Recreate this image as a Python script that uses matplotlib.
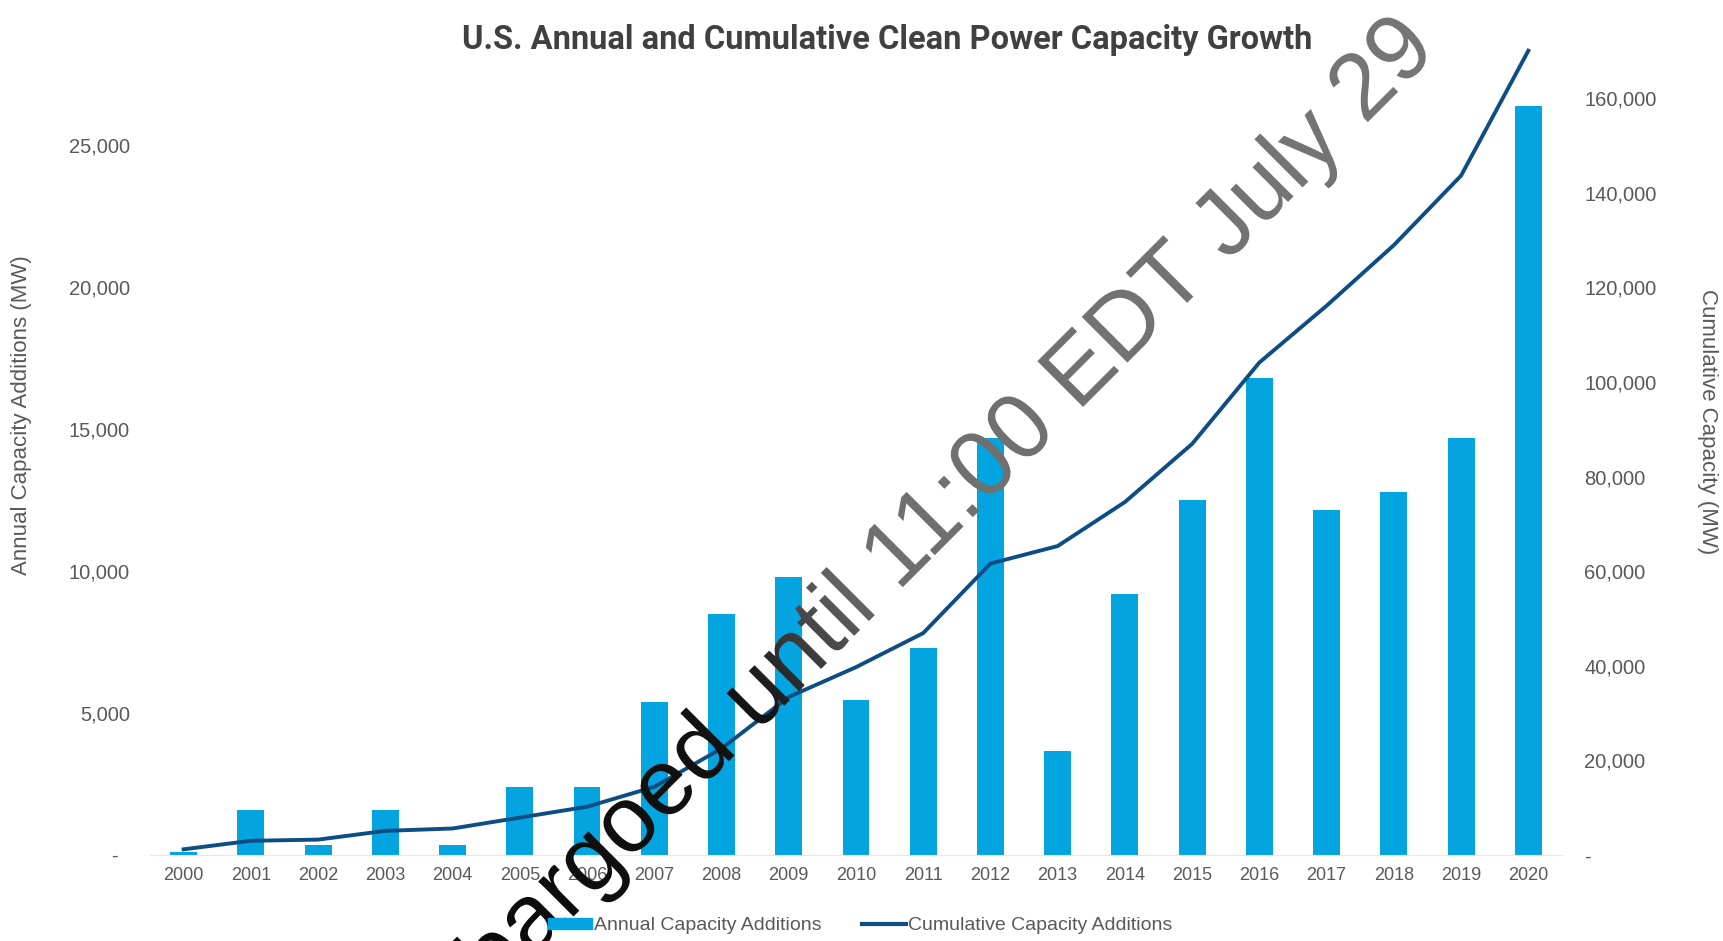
import numpy as np
import matplotlib
matplotlib.use('Agg')
import matplotlib.pyplot as plt
from matplotlib.ticker import FuncFormatter
from matplotlib.lines import Line2D
from matplotlib.patches import Patch, PathPatch
from matplotlib.textpath import TextPath
from matplotlib.font_manager import FontProperties
from matplotlib.transforms import Affine2D
from matplotlib.colors import LinearSegmentedColormap

# data ------------------------------------------------------------------

years = [str(y) for y in range(2000, 2021)]

# MW added each year
annual_mw = [100, 1600, 350, 1600, 350, 2400, 2400, 5400, 8500, 9800,
             5450, 7300, 14700, 3650, 9200, 12500, 16800, 12150, 12800,
             14700, 26400]

# MW installed in total at year end
cumulative_mw = [1200, 3000, 3250, 5100, 5600, 7900, 10200, 14400, 22500,
                 33400, 39700, 46900, 61600, 65300, 74600, 86900, 104100,
                 116100, 128900, 143600, 170000]

left_ticks = [0, 5000, 10000, 15000, 20000, 25000]
right_ticks = [0, 20000, 40000, 60000, 80000, 100000, 120000, 140000, 160000]

BAR_COLOR = '#04a4e1'
LINE_COLOR = '#0d4d84'
TEXT_COLOR = '#595959'
W, H = 1724, 941

plt.rcParams['font.family'] = ['Liberation Sans', 'DejaVu Sans']


def acct(v, pos=None):
    '''format tick values accounting style: zero becomes a dash'''
    if v == 0:
        return '-  '
    return '{:,.0f}'.format(v)


def acct_right(v, pos=None):
    if v == 0:
        return '-'
    return '{:,.0f}'.format(v)


# plot ------------------------------------------------------------------

fig = plt.figure(figsize=(W / 100, H / 100), dpi=100)
ax = fig.add_axes([0.087, 0.0914, 0.819, 0.905])
ax2 = ax.twinx()

x = np.arange(len(years))
ax.bar(x, annual_mw, width=0.4, color=BAR_COLOR, zorder=2)
ax2.plot(x, cumulative_mw, color=LINE_COLOR, linewidth=2.8, zorder=3)

ax.set_xlim(-0.5, len(years) - 0.5)
ax.set_ylim(0, 30000)
ax2.set_ylim(0, 180000)

ax.set_xticks(x)
ax.set_xticklabels(years)
ax.set_yticks(left_ticks)
ax2.set_yticks(right_ticks)
ax.yaxis.set_major_formatter(FuncFormatter(acct))
ax2.yaxis.set_major_formatter(FuncFormatter(acct_right))

for a in (ax, ax2):
    for side in ('top', 'left', 'right'):
        a.spines[side].set_visible(False)
    a.spines['bottom'].set_color('#e8e8e8')
    a.tick_params(length=0, colors=TEXT_COLOR)
ax2.spines['bottom'].set_visible(False)
ax.tick_params(axis='x', pad=9, labelsize=13)
ax.tick_params(axis='y', pad=14.5, labelsize=14.5)
ax2.tick_params(axis='y', pad=16, labelsize=14.5)

fig.text(22 / W, 1 - 415 / H, 'Annual Capacity Additions (MW)', rotation=90,
         ha='center', va='center', fontsize=16, color=TEXT_COLOR)
fig.text(1708 / W, 1 - 422 / H, 'Cumulative Capacity (MW)', rotation=270,
         ha='center', va='center', fontsize=16, color=TEXT_COLOR)

fig.text(0.5145, 0.958, 'U.S. Annual and Cumulative Clean Power Capacity Growth',
         ha='center', va='center', fontsize=23.5, fontweight='bold',
         family=['Roboto', 'DejaVu Sans'], color='#404040')

handles = [Patch(color=BAR_COLOR),
           Line2D([], [], color=LINE_COLOR, linewidth=3)]
fig.legend(handles, ['Annual Capacity Additions', 'Cumulative Capacity Additions'],
           loc='center', bbox_to_anchor=(0.499, 0.016), ncol=2, frameon=False,
           fontsize=14, labelcolor=TEXT_COLOR, handlelength=2.25,
           handleheight=0.45, handletextpad=0.1, columnspacing=2.1)

# embargo stamp across the plot, black at the start turning grey
over = fig.add_axes([0, 0, 1, 1])
over.axis('off')
stamp = 'Embargoed until 11:00 EDT July 29'
size = 94
angle = 45
cx, cy = 918, H - 572          # middle of the baseline, in pixels
tp = TextPath((0, 0), stamp, size=size,
              prop=FontProperties(family='Liberation Sans'))
bb = tp.get_extents()
tr = (Affine2D().translate(-(bb.x0 + bb.x1) / 2, 0)
      .rotate_deg(angle).translate(cx, cy))
stamp_patch = PathPatch(tr.transform_path(tp), facecolor='none', edgecolor='none')
over.add_patch(stamp_patch)

gx, gy = np.meshgrid(np.arange(W) + 0.5, np.arange(H) + 0.5)
ux, uy = np.cos(np.radians(angle)), np.sin(np.radians(angle))
along = ((gx - cx) * ux + (gy - cy) * uy) / (bb.width / 2)
fade = LinearSegmentedColormap.from_list(
    'fade', [(0.0, '#080808'), (0.36, '#141414'), (0.47, '#6f6f6f'),
             (1.0, '#767676')])
im = over.imshow(along, extent=[0, W, 0, H], origin='lower', cmap=fade,
                 vmin=-1, vmax=1, aspect='auto', interpolation='nearest')
im.set_clip_path(stamp_patch)
over.set_xlim(0, W)
over.set_ylim(0, H)

fig.savefig('out.png', dpi=100)
